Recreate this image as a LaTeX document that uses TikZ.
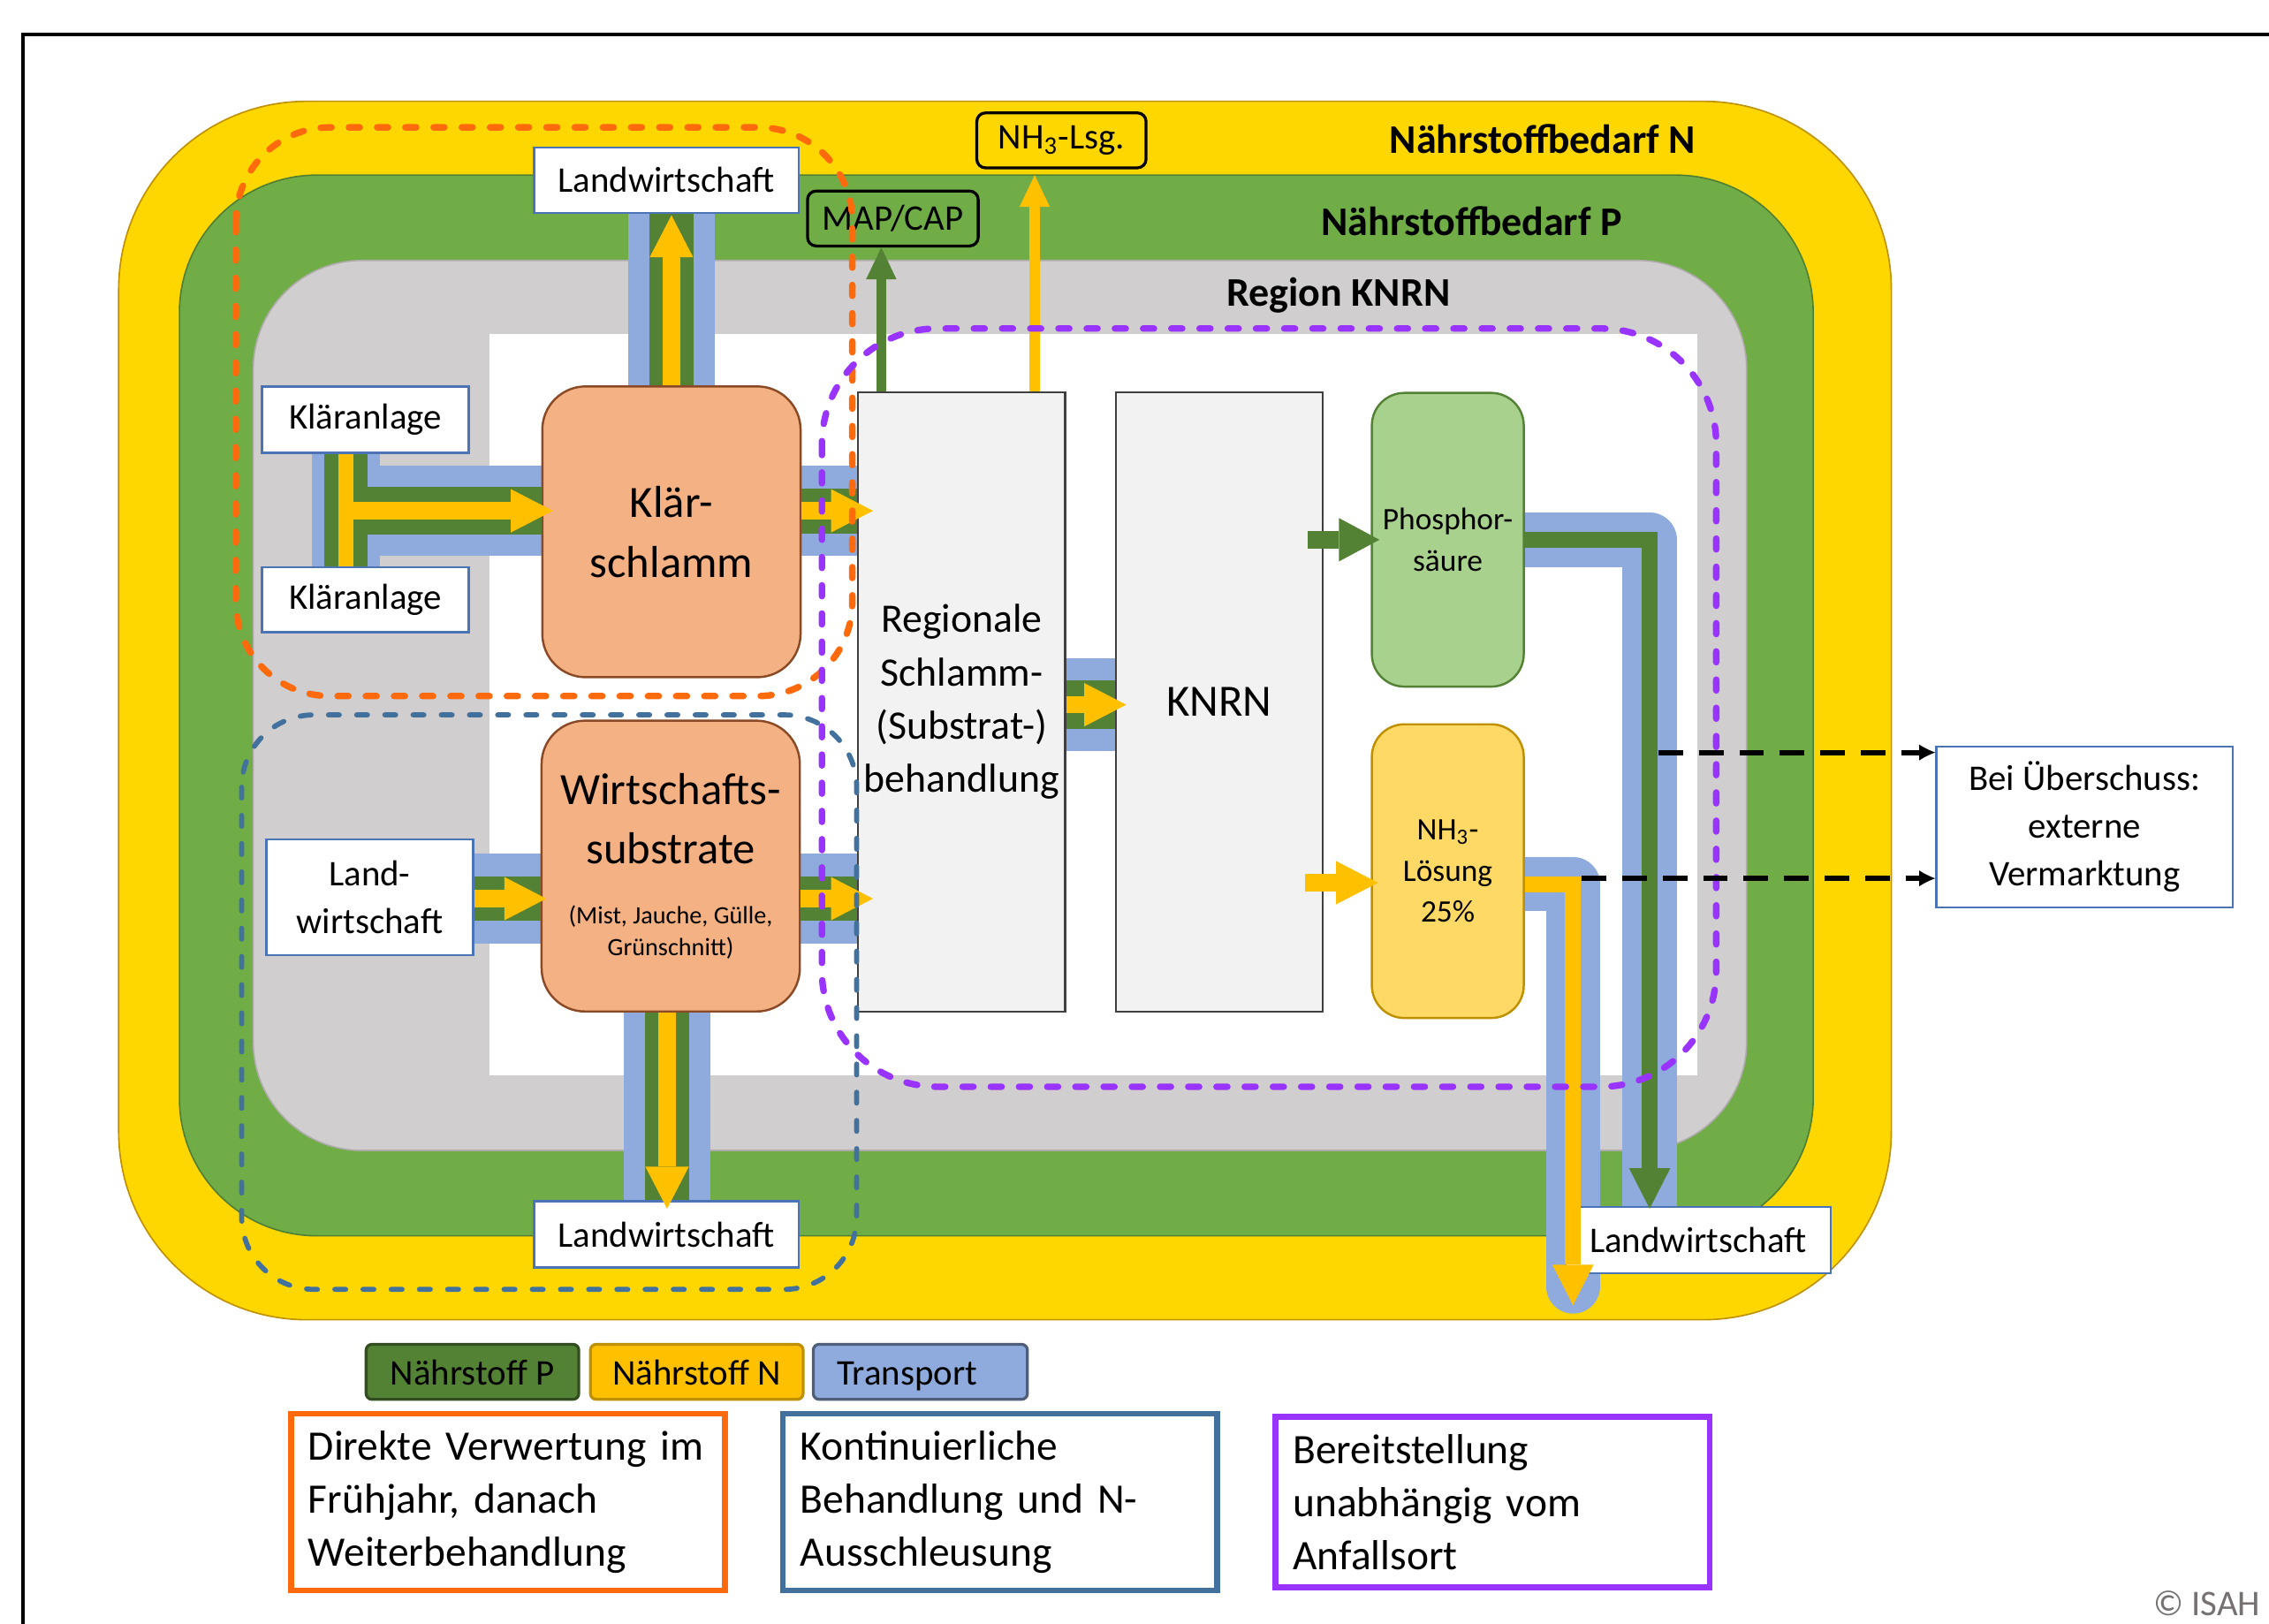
\documentclass[tikz,border=0pt]{standalone}
\usepackage{fontspec}
\setmainfont{Carlito}
\usepackage{tikz}
\usetikzlibrary{arrows.meta, calc}

\definecolor{gelbN}{HTML}{FFD700}
\definecolor{gelbrand}{HTML}{BF9000}
\definecolor{gruenP}{HTML}{70AD47}
\definecolor{gruenrand}{HTML}{507E32}
\definecolor{grauR}{HTML}{D0CECE}
\definecolor{graurand}{HTML}{AFABAB}
\definecolor{stoffP}{HTML}{548235}
\definecolor{stoffN}{HTML}{FFC000}
\definecolor{transp}{HTML}{8FAADC}
\definecolor{schlamm}{HTML}{F4B183}
\definecolor{schlammrand}{HTML}{8B4A26}
\definecolor{phosgr}{HTML}{A9D18E}
\definecolor{ammgelb}{HTML}{FFD966}
\definecolor{rahmen}{HTML}{4A74B5}
\definecolor{orangeD}{HTML}{FF6A0D}
\definecolor{blauD}{HTML}{41719C}
\definecolor{lilaD}{HTML}{9933FF}
\definecolor{isahgrau}{HTML}{767171}

\newcommand{\kleinschrift}{\fontsize{9.8}{12.5}\selectfont}

\pgfdeclarelayer{regionen}
\pgfdeclarelayer{baender}
\pgfsetlayers{regionen,baender,main}

\begin{document}
\begin{tikzpicture}[
  x=0.02cm, y=-0.02cm,
  box/.style={rectangle, draw=rahmen, line width=0.03cm, fill=white, align=center, inner sep=0pt, font=\fontsize{14.2}{18.8}\selectfont},
  quelle/.style={rectangle, rounded corners=0.6cm, draw=schlammrand, line width=0.03cm, fill=schlamm, align=center, inner sep=0pt, minimum width=3.57cm, minimum height=4.02cm, font=\fontsize{17.6}{23.5}\selectfont},
  anlage/.style={rectangle, draw=black!75, line width=0.03cm, fill=black!5, align=center, inner sep=0pt, minimum width=2.86cm, minimum height=8.56cm},
  produkt/.style={rectangle, rounded corners=0.45cm, line width=0.03cm, align=center, inner sep=0pt, minimum width=2.1cm, minimum height=4.06cm, font=\fontsize{12.3}{16.2}\selectfont},
  etikett/.style={rectangle, rounded corners=0.12cm, draw=black, line width=0.04cm, inner sep=0pt, minimum width=2.36cm, minimum height=0.76cm, font=\fontsize{14.2}{17}\selectfont},
  zonentitel/.style={font=\bfseries\fontsize{16}{19}\selectfont},
  legende/.style={rectangle, rounded corners=0.08cm, line width=0.04cm, inner sep=0pt, minimum width=2.94cm, minimum height=0.76cm, text height=0.37cm, text depth=0cm, font=\fontsize{14.2}{17}\selectfont},
  notiz/.style={rectangle, line width=0.08cm, fill=white, align=left, text width=5.52cm, inner sep=0.24cm, minimum height=2.36cm, font=\fontsize{16.5}{20.8}\selectfont},
  band/.style={transp, line width=1.24cm},
  schmalband/.style={transp, line width=0.75cm, line join=round},
  streifen/.style={stoffP, line width=0.62cm},
  nfluss/.style={stoffN, line width=0.24cm, -{Triangle[length=0.58cm, width=0.6cm, line width=0pt]}},
  pfluss/.style={stoffP, line width=0.24cm, -{Triangle[length=0.56cm, width=0.6cm, line width=0pt]}},
  duenn/.style={line width=0.22cm, -{Triangle[length=0.56cm, width=0.57cm, line width=0pt]}},
  kleinpfeil/.style={line width=0.14cm, -{Triangle[length=0.44cm, width=0.42cm, line width=0pt]}},
  zonenlinie/.style={line width=0.09cm, dash pattern=on 0.15cm off 0.24cm, line cap=round},
  ueber/.style={black, line width=0.07cm, dash pattern=on 0.34cm off 0.22cm, -{Latex[length=0.22cm, width=0.22cm, line width=0pt]}}
]
\useasboundingbox (0,0) rectangle (1568,1122);

% Hilfspunkte der Transportwege
\coordinate (jk) at (239,353);
\coordinate (rK) at (0,353);
\coordinate (rW) at (0,621);
\coordinate (rR) at (0,487);
\coordinate (cO) at (464,0);
\coordinate (cU) at (461,0);
\coordinate (cM) at (609,0);
\coordinate (cL) at (715,0);
\coordinate (cP) at (1140,0);
\coordinate (cN) at (1087,0);
\coordinate (endN) at (1087,902);
\coordinate (xP) at (1146,520);
\coordinate (xN) at (1093,607);

\begin{pgfonlayer}{regionen}
  % Rahmen
  \draw[line width=0.05cm] (16,1122) -- (16,24) -- (1568,24);
  % Nährstoffbedarf N, P und Region
  \draw[fill=gelbN, draw=gelbrand, line width=0.02cm, rounded corners=2.6cm] (82,70) rectangle (1307,912);
  \draw[fill=gruenP, draw=gruenrand, line width=0.02cm, rounded corners=1.9cm] (124,121) rectangle (1253,854);
  \draw[fill=grauR, draw=graurand, line width=0.02cm, rounded corners=1.5cm] (175,180) rectangle (1207,795);
  \fill[white] (338,231) rectangle (1173,743);
\end{pgfonlayer}

\node[zonentitel] (labN) at (1066,96) {Nährstoffbedarf N};
\node[zonentitel] (labP) at (1017,153) {Nährstoffbedarf P};
\node[zonentitel] (labR) at (925,204) {Region KNRN};

% Quellen und Abnehmer
\node[box, minimum width=2.86cm, minimum height=0.92cm] (ka1) at (252.5,290) {Kläranlage};
\node[box, minimum width=2.86cm, minimum height=0.9cm] (ka2) at (252.5,414.5) {Kläranlage};
\node[box, minimum width=2.86cm, minimum height=1.6cm] (lwL) at (255.5,620) {Land-\\wirtschaft};
\node[box, minimum width=3.66cm, minimum height=0.9cm] (lwO) at (460.5,124.5) {Landwirtschaft};
\node[box, minimum width=3.66cm, minimum height=0.92cm] (lwU) at (460.5,853) {Landwirtschaft};
\node[box, minimum width=3.66cm, minimum height=0.92cm] (lwR) at (1173.5,857) {Landwirtschaft};
\node[quelle] (ks) at (464,367.5) {Klär-\\schlamm};
\node[quelle] (ws) at (463.5,598.5) {Wirtschafts-\\substrate\\\kleinschrift(Mist, Jauche, Gülle,\\[-11pt]\kleinschrift Grünschnitt)};

% Behandlung und Produkte
\node[anlage, font=\fontsize{15.9}{21}\selectfont] (rsb) at (664.5,485) {Regionale\\Schlamm-\\(Substrat-)\\behandlung};
\node[anlage, font=\fontsize{17.6}{21}\selectfont] (knrn) at (842.5,485) {KNRN};
\node[produkt, fill=phosgr, draw=stoffP] (phs) at (1000.5,373) {Phosphor-\\säure};
\node[produkt, fill=ammgelb, draw=gelbrand] (nh3) at (1000.5,602) {NH\textsubscript{3}-\\Lösung\\25\%};
\node[etikett, fill=gruenP] (map) at (617,151) {MAP/CAP};
\node[etikett, fill=gelbN, minimum width=2.34cm] (lsg) at (733.5,97) {NH\textsubscript{3}-Lsg.};
\node[box, minimum width=4.1cm, minimum height=2.22cm] (ext) at (1440.5,571.5) {Bei Überschuss:\\externe\\Vermarktung};

\begin{pgfonlayer}{baender}
  % Transport (blau)
  \draw[band, line width=0.94cm] (jk |- ka1.south) -- (jk |- ka2.north);
  \draw[band] (jk) -- (jk -| ks.west);
  \draw[band, line width=1.2cm] (cO |- ks.north) -- (cO |- lwO.south);
  \draw[band] (rK -| ks.east) -- (rK -| rsb.west);
  \draw[band] (rW -| lwL.east) -- (rW -| ws.west);
  \draw[band] (rW -| ws.east) -- (rW -| rsb.west);
  \draw[band, line width=1.2cm] (cU |- ws.south) -- (cU |- lwU.north);
  \draw[band, line width=1.28cm] (rR -| rsb.east) -- (rR -| knrn.west);
  \draw[schmalband] (phs.east) -- (phs.east -| cP) -- (cP |- lwR.north);
  \draw[schmalband, line cap=round] ($(nh3.east)+(-20,9)$) -- ($(nh3.east -| cN)+(0,9)$) -- ($(endN)+(0,-13)$);
\end{pgfonlayer}

% Kläranlagen -> Klärschlamm
\draw[streifen, line width=0.6cm] (jk |- ka1.south) -- (jk |- ka2.north);
\draw[streifen, line width=0.66cm] (jk) -- (jk -| ks.west);
\draw[stoffN, line width=0.2cm] (jk |- ka1.south) -- (jk |- ka2.north);
\draw[nfluss] (jk) -- ($(jk -| ks.west)+(8,0)$);
% Klärschlamm -> Landwirtschaft (oben)
\draw[streifen] (cO |- ks.north) -- (cO |- lwO.south);
\draw[nfluss] (cO |- ks.north) -- ($(cO |- lwO.south)+(0,1)$);
% Klärschlamm -> Behandlung
\draw[streifen] (rK -| ks.east) -- (rK -| rsb.west);
\draw[nfluss] (rK -| ks.east) -- ($(rK -| rsb.west)+(11,0)$);
% Landwirtschaft -> Wirtschaftssubstrate -> Behandlung
\draw[streifen] (rW -| lwL.east) -- (rW -| ws.west);
\draw[nfluss] (rW -| lwL.east) -- ($(rW -| ws.west)+(4,0)$);
\draw[streifen] (rW -| ws.east) -- (rW -| rsb.west);
\draw[nfluss] (rW -| ws.east) -- ($(rW -| rsb.west)+(11,0)$);
% Wirtschaftssubstrate -> Landwirtschaft (unten)
\draw[streifen] (cU |- ws.south) -- (cU |- lwU.north);
\draw[nfluss] (cU |- ws.south) -- ($(cU |- lwU.north)+(0,6)$);
% Behandlung -> KNRN
\draw[streifen, line width=0.68cm] (rR -| rsb.east) -- (rR -| knrn.west);
\draw[nfluss] (rR -| rsb.east) -- ($(rR -| knrn.west)+(8,0)$);
% KNRN -> Produkte
\draw[pfluss] (knrn.east |- phs.west) ++(-11,0) -- ($(phs.west)+(6,0)$);
\draw[nfluss] ($(knrn.east |- nh3.west)+(-13,8)$) -- ($(nh3.west)+(5,8)$);
% Behandlung -> MAP/CAP, NH3-Lsg.
\draw[kleinpfeil, stoffP] (cM |- rsb.north) -- (cM |- map.south);
\draw[kleinpfeil, stoffN] (cL |- rsb.north) -- ($(cL |- lsg.south)+(0,4)$);
% Produkte -> Landwirtschaft (rechts)
\draw[duenn, stoffP] (phs.east) -- (phs.east -| cP) -- ($(cP |- lwR.north)+(0,2)$);
\draw[duenn, stoffN] ($(nh3.east)+(0,9)$) -- ($(nh3.east -| cN)+(0,9)$) -- (endN);

% Zonen (gestrichelt)
\draw[zonenlinie, orangeD, rounded corners=1.3cm] (163,88) rectangle (589,481);
\draw[zonenlinie, blauD, line width=0.07cm, rounded corners=1.0cm] (167,494) rectangle (592,891);
\draw[zonenlinie, lilaD, rounded corners=1.6cm] (568,227) rectangle (1186,751);

% Überschuss -> externe Vermarktung
\draw[ueber] (xP) -- (xP -| ext.west);
\draw[ueber] (xN) -- (xN -| ext.west);

% Legende
\node[legende, fill=stoffP, draw=stoffP!60!black] (legP) at (326.5,948) {Nährstoff P};
\node[legende, fill=stoffN, draw=stoffN!75!black] (legN) at (481.5,948) {Nährstoff N};
\node[legende, fill=transp, draw=transp!55!black, minimum width=2.96cm] (legT) at (636,948) {Transport\hspace*{0.36cm}};

\node[notiz, draw=orangeD] (nt1) at (351,1038) {Direkte Verwertung im\\Frühjahr, danach\\Weiterbehandlung};
\node[notiz, draw=blauD] (nt2) at (691,1038) {Kontinuierliche\\Behandlung und N-\\Ausschleusung};
\node[notiz, draw=lilaD] (nt3) at (1031.5,1038) {Bereitstellung\\unabhängig vom\\Anfallsort};
\node[text=isahgrau, font=\fontsize{14.2}{17}\selectfont] (isah) at (1525,1108) {© ISAH};
\end{tikzpicture}
\end{document}
